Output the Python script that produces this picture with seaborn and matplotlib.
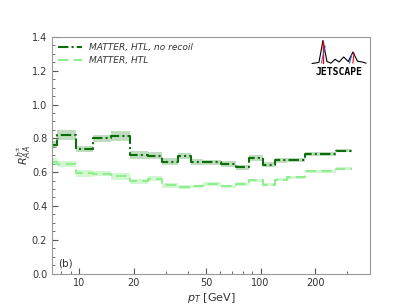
import numpy as np
import pandas as pd
import seaborn as sns
import matplotlib.pyplot as plt
from matplotlib.ticker import FixedLocator, NullFormatter, MultipleLocator

# bin edges in pT (GeV)
edges = [7.1, 7.6, 9.6, 12.0, 15.0, 19.2, 24.0, 28.8, 35.2, 41.6, 48.0,
         60.8, 73.6, 86.4, 103.6, 120.8, 140.0, 175.0, 260.0, 320.0]

# MATTER, HTL, no recoil
raa_norecoil = [0.763, 0.818, 0.737, 0.800, 0.814, 0.700, 0.698, 0.662, 0.695,
                0.660, 0.657, 0.648, 0.630, 0.685, 0.644, 0.670, 0.672, 0.707, 0.728]
err_norecoil = [0.02, 0.03, 0.02, 0.022, 0.028, 0.025, 0.02, 0.02, 0.018, 0.02,
                0.015, 0.015, 0.015, 0.018, 0.015, 0.015, 0.012, 0.01, 0.01]

# MATTER, HTL
raa_htl = [0.662, 0.648, 0.592, 0.590, 0.575, 0.547, 0.561, 0.521, 0.512, 0.515,
           0.531, 0.515, 0.529, 0.551, 0.525, 0.555, 0.569, 0.604, 0.620]
err_htl = [0.02, 0.02, 0.018, 0.015, 0.02, 0.015, 0.015, 0.012, 0.012, 0.01,
           0.012, 0.01, 0.01, 0.01, 0.01, 0.01, 0.008, 0.008, 0.008]

labels = ["MATTER, HTL, no recoil", "MATTER, HTL"]
major_xticks = [10, 20, 50, 100, 200]

sns.set_style("ticks")
plt.rcParams['font.family'] = ['DejaVu Sans']

fig = plt.figure(figsize=(4.11, 3.08), dpi=100)
ax = fig.add_axes([0.1265, 0.112, 0.7735, 0.768])


def step_frame(vals):
    # repeat last value at final edge for a steps-post drawing
    return pd.DataFrame({"pt": edges, "raa": list(vals) + [vals[-1]]})


series = [
    (raa_norecoil, err_norecoil, "#0b6e0b", "#2e8b2e", 0.3, (5, 1.5, 1, 1.5), labels[0]),
    (raa_htl, err_htl, "#90ee90", "#90ee90", 0.4, (5, 2.5), labels[1]),
]

for vals, errs, lc, fc, alpha, dash, lab in series:
    df = step_frame(vals)
    lo = np.array(vals + [vals[-1]]) - np.array(errs + [errs[-1]])
    hi = np.array(vals + [vals[-1]]) + np.array(errs + [errs[-1]])
    ax.fill_between(edges, lo, hi, step="post", color=fc, alpha=alpha, lw=0)
    sns.lineplot(data=df, x="pt", y="raa", drawstyle="steps-post", color=lc,
                 lw=1.5, dashes=False, estimator=None, sort=False, label=lab, ax=ax)
    ax.lines[-1].set_dashes(dash)

ax.set_xscale("log")
ax.set_xlim(7.1, 400)
ax.set_ylim(0, 1.4)
ax.xaxis.set_major_locator(FixedLocator(major_xticks))
ax.set_xticklabels([str(t) for t in major_xticks])
ax.xaxis.set_minor_locator(FixedLocator([8, 9, 30, 40, 60, 70, 80, 90, 300]))
ax.xaxis.set_minor_formatter(NullFormatter())
ax.yaxis.set_major_locator(MultipleLocator(0.2))
ax.yaxis.set_minor_locator(MultipleLocator(0.05))
ax.tick_params(which="both", direction="in", labelsize=7, colors="#555555",
               labelcolor="#333333")
ax.tick_params(which="major", length=4)
ax.tick_params(which="minor", length=2)
for s in ax.spines.values():
    s.set_color("#999999")

ax.set_xlabel("$p_T$ [GeV]", fontsize=8, color="#333333", labelpad=2)
ax.set_ylabel(r"$R_{AA}^{h^{\pm}}$", fontsize=8, color="#333333", labelpad=-1)

leg = ax.legend(loc="upper left", frameon=False, fontsize=6.5,
                handlelength=2.6, borderaxespad=0.3, labelspacing=0.4)
for t in leg.get_texts():
    t.set_style("italic")
    t.set_color("#333333")

ax.text(0.02, 0.03, "(b)", transform=ax.transAxes, fontsize=7.5, color="#333333")

# JETSCAPE logo (approximate)
logo = fig.add_axes([0.755, 0.75, 0.14, 0.125])
logo.axis("off")
logo.set_xlim(0, 10)
logo.set_ylim(0, 10)
peak_x = [0.3, 1.5, 2.2, 2.9, 3.6, 4.3, 5.0, 5.8, 6.6, 7.4, 8.2, 9.0, 9.7]
peak_y = [3.5, 3.8, 9.5, 4.0, 3.6, 4.6, 3.9, 5.2, 4.0, 6.5, 4.1, 3.9, 3.6]
logo.plot(peak_x, peak_y, color="black", lw=0.8)
logo.plot([2.2, 2.2], [3.6, 9.0], color="red", lw=1.0)
logo.plot([1.9, 2.6], [3.6, 8.0], color="#2255dd", lw=0.6)
logo.plot([7.4, 7.6], [3.6, 6.2], color="red", lw=0.8)
logo.plot([6.8, 7.2], [3.6, 5.8], color="#2255dd", lw=0.8)
logo.text(5, 1.3, "JETSCAPE", ha="center", va="center", fontsize=7,
          fontweight="bold", color="black", family="DejaVu Sans Mono")

fig.savefig("out.png", dpi=100)
